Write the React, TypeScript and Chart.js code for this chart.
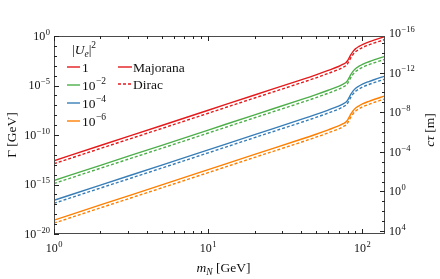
import { useEffect, useRef } from "react";
import { Chart, registerables } from "chart.js";

Chart.register(...registerables);

// hbar*c in GeV*m, links the right axis (c*tau) to the left axis (Gamma)
const HBARC = 1.97327e-16;

const massGeV = [1, 2, 5, 10, 20, 40, 50, 60, 70, 75, 78, 80, 82, 84, 87, 90, 95, 100, 110, 120, 130, 140];

// Gamma [GeV], Majorana, |U_e|^2 = 1, 1e-2, 1e-4, 1e-6
const majorana1 = [2.51e-13, 8.71e-12, 9.12e-10, 3.16e-8, 1.10e-6, 3.72e-5, 1.20e-4, 3.31e-4, 8.32e-4, 1.41e-3, 2.00e-3, 3.16e-3, 6.31e-3, 1.26e-2, 2.82e-2, 5.01e-2, 8.91e-2, 1.38e-1, 2.51e-1, 4.07e-1, 6.17e-1, 8.91e-1];
const majorana2 = [2.51e-15, 8.71e-14, 9.12e-12, 3.16e-10, 1.10e-8, 3.72e-7, 1.20e-6, 3.31e-6, 8.32e-6, 1.41e-5, 2.00e-5, 3.16e-5, 6.31e-5, 1.26e-4, 2.82e-4, 5.01e-4, 8.91e-4, 1.38e-3, 2.51e-3, 4.07e-3, 6.17e-3, 8.91e-3];
const majorana4 = [2.51e-17, 8.71e-16, 9.12e-14, 3.16e-12, 1.10e-10, 3.72e-9, 1.20e-8, 3.31e-8, 8.32e-8, 1.41e-7, 2.00e-7, 3.16e-7, 6.31e-7, 1.26e-6, 2.82e-6, 5.01e-6, 8.91e-6, 1.38e-5, 2.51e-5, 4.07e-5, 6.17e-5, 8.91e-5];
const majorana6 = [2.51e-19, 8.71e-18, 9.12e-16, 3.16e-14, 1.10e-12, 3.72e-11, 1.20e-10, 3.31e-10, 8.32e-10, 1.41e-9, 2.00e-9, 3.16e-9, 6.31e-9, 1.26e-8, 2.82e-8, 5.01e-8, 8.91e-8, 1.38e-7, 2.51e-7, 4.07e-7, 6.17e-7, 8.91e-7];

// Gamma [GeV], Dirac
const dirac1 = [1.26e-13, 4.36e-12, 4.56e-10, 1.58e-8, 5.50e-7, 1.86e-5, 6.00e-5, 1.66e-4, 4.16e-4, 7.05e-4, 1.00e-3, 1.58e-3, 3.16e-3, 6.30e-3, 1.41e-2, 2.51e-2, 4.46e-2, 6.90e-2, 1.26e-1, 2.04e-1, 3.09e-1, 4.46e-1];
const dirac2 = [1.26e-15, 4.36e-14, 4.56e-12, 1.58e-10, 5.50e-9, 1.86e-7, 6.00e-7, 1.66e-6, 4.16e-6, 7.05e-6, 1.00e-5, 1.58e-5, 3.16e-5, 6.30e-5, 1.41e-4, 2.51e-4, 4.46e-4, 6.90e-4, 1.26e-3, 2.04e-3, 3.09e-3, 4.46e-3];
const dirac4 = [1.26e-17, 4.36e-16, 4.56e-14, 1.58e-12, 5.50e-11, 1.86e-9, 6.00e-9, 1.66e-8, 4.16e-8, 7.05e-8, 1.00e-7, 1.58e-7, 3.16e-7, 6.30e-7, 1.41e-6, 2.51e-6, 4.46e-6, 6.90e-6, 1.26e-5, 2.04e-5, 3.09e-5, 4.46e-5];
const dirac6 = [1.26e-19, 4.36e-18, 4.56e-16, 1.58e-14, 5.50e-13, 1.86e-11, 6.00e-11, 1.66e-10, 4.16e-10, 7.05e-10, 1.00e-9, 1.58e-9, 3.16e-9, 6.30e-9, 1.41e-8, 2.51e-8, 4.46e-8, 6.90e-8, 1.26e-7, 2.04e-7, 3.09e-7, 4.46e-7];

const couplingLabels = ["1", "−2", "−4", "−6"]; // "1" or exponents of 10
const seriesColors = ["#e41a1c", "#4daf4a", "#377eb8", "#ff7f00"];

const xMajorTicks = [1, 10, 100];
const xMinorTicks = [2, 3, 4, 5, 6, 7, 8, 9, 20, 30, 40, 50, 60, 70, 80, 90];
const xTickExps = ["0", "1", "2"];
const yTickExps = [0, -5, -10, -15, -20];
const y2TickExps = [-16, -12, -8, -4, 0, 4];

const FONT = '"Liberation Serif", "DejaVu Serif", serif';
const TICK_FS = 12;
const SUP_FS = 8.5;
const TEXT_FS = 13.5;

function expStr(e: number) {
  return e < 0 ? "−" + String(-e) : String(e);
}

function powWidth(ctx: CanvasRenderingContext2D, exp: string, fs = TICK_FS, sfs = SUP_FS) {
  ctx.font = `${fs}px ${FONT}`;
  const w1 = ctx.measureText("10").width;
  ctx.font = `${sfs}px ${FONT}`;
  const w2 = ctx.measureText(exp).width;
  return [w1, w2];
}

function drawPow(
  ctx: CanvasRenderingContext2D,
  exp: string,
  x: number,
  y: number,
  align: "left" | "right" | "center",
  fs = TICK_FS,
  sfs = SUP_FS
) {
  const [w1, w2] = powWidth(ctx, exp, fs, sfs);
  const total = w1 + 0.5 + w2;
  const left = align === "left" ? x : align === "right" ? x - total : x - total / 2;
  ctx.textAlign = "left";
  ctx.textBaseline = "alphabetic";
  ctx.font = `${fs}px ${FONT}`;
  ctx.fillText("10", left, y + fs * 0.33);
  ctx.font = `${sfs}px ${FONT}`;
  ctx.fillText(exp, left + w1 + 0.5, y - fs * 0.1);
  return total;
}

type Piece = { t: string; italic?: boolean; size: number; dy: number };

function drawPieces(ctx: CanvasRenderingContext2D, pieces: Piece[], x: number, y: number, align: "left" | "center") {
  let total = 0;
  const widths = pieces.map((p) => {
    ctx.font = `${p.italic ? "italic " : ""}${p.size}px ${FONT}`;
    const w = ctx.measureText(p.t).width;
    total += w;
    return w;
  });
  let cx = align === "left" ? x : x - total / 2;
  ctx.textAlign = "left";
  ctx.textBaseline = "alphabetic";
  pieces.forEach((p, i) => {
    ctx.font = `${p.italic ? "italic " : ""}${p.size}px ${FONT}`;
    ctx.fillText(p.t, cx, y + p.dy);
    cx += widths[i];
  });
}

const decorPlugin = {
  id: "decor",
  afterDraw(chart: any) {
    const ctx: CanvasRenderingContext2D = chart.ctx;
    const a = chart.chartArea;
    const xs = chart.scales.x;
    const ys = chart.scales.y;
    const y2 = chart.scales.y2;
    ctx.save();

    // frame
    ctx.strokeStyle = "#4a4a4a";
    ctx.lineWidth = 1;
    ctx.strokeRect(Math.round(a.left) + 0.5, Math.round(a.top) + 0.5, Math.round(a.right - a.left) - 1, Math.round(a.bottom - a.top) - 1);

    // ticks (inward)
    ctx.strokeStyle = "#222";
    ctx.beginPath();
    const xt = (v: number, len: number) => {
      const px = Math.round(xs.getPixelForValue(v)) + 0.5;
      ctx.moveTo(px, a.bottom);
      ctx.lineTo(px, a.bottom - len);
      ctx.moveTo(px, a.top);
      ctx.lineTo(px, a.top + len);
    };
    xMajorTicks.forEach((v) => xt(v, 5));
    xMinorTicks.forEach((v) => xt(v, 3));
    for (let e = -20; e <= 0; e++) {
      const py = Math.round(ys.getPixelForValue(Math.pow(10, e))) + 0.5;
      const len = e % 5 === 0 ? 5 : 3;
      ctx.moveTo(a.left, py);
      ctx.lineTo(a.left + len, py);
    }
    for (let e = -16; e <= 4; e++) {
      const raw = y2.getPixelForValue(Math.pow(10, e));
      if (raw < a.top + 1 || raw > a.bottom - 1) continue;
      const py = Math.round(raw) + 0.5;
      const len = e % 4 === 0 ? 5 : 3;
      ctx.moveTo(a.right, py);
      ctx.lineTo(a.right - len, py);
    }
    ctx.stroke();

    // tick labels
    ctx.fillStyle = "#111";
    xMajorTicks.forEach((v, i) => {
      drawPow(ctx, xTickExps[i], xs.getPixelForValue(v), a.bottom + 14, "center");
    });
    yTickExps.forEach((e) => {
      drawPow(ctx, expStr(e), a.left - 4, ys.getPixelForValue(Math.pow(10, e)), "right");
    });
    y2TickExps.forEach((e) => {
      drawPow(ctx, expStr(e), a.right + 4, y2.getPixelForValue(Math.pow(10, e)), "left");
    });

    // axis titles
    drawPieces(
      ctx,
      [
        { t: "m", italic: true, size: TEXT_FS, dy: 0 },
        { t: "N", italic: true, size: 9.5, dy: 2.5 },
        { t: " [GeV]", size: TEXT_FS, dy: 0 },
      ],
      (a.left + a.right) / 2 + 4,
      a.bottom + 38,
      "center"
    );
    ctx.save();
    ctx.translate(16, 135);
    ctx.rotate(-Math.PI / 2);
    drawPieces(ctx, [{ t: "Γ [GeV]", size: TEXT_FS, dy: 0 }], 0, 0, "center");
    ctx.restore();
    ctx.save();
    ctx.translate(434, 130);
    ctx.rotate(-Math.PI / 2);
    drawPieces(
      ctx,
      [
        { t: "cτ", italic: true, size: TEXT_FS, dy: 0 },
        { t: " [m]", size: TEXT_FS, dy: 0 },
      ],
      0,
      0,
      "center"
    );
    ctx.restore();

    // legend
    drawPieces(
      ctx,
      [
        { t: "|", size: TEXT_FS, dy: 0 },
        { t: "U", italic: true, size: TEXT_FS, dy: 0 },
        { t: "e", italic: true, size: 9.5, dy: 2.5 },
        { t: "|", size: TEXT_FS, dy: 0 },
        { t: "2", size: 9.5, dy: -6 },
      ],
      72,
      54,
      "left"
    );
    const rowY = [67, 85, 103, 121];
    ctx.lineWidth = 1.4;
    couplingLabels.forEach((lab, i) => {
      const y = rowY[i];
      ctx.strokeStyle = seriesColors[i];
      ctx.setLineDash([]);
      ctx.beginPath();
      ctx.moveTo(67, y);
      ctx.lineTo(80, y);
      ctx.stroke();
      ctx.fillStyle = "#111";
      if (i === 0) {
        ctx.font = `${TEXT_FS}px ${FONT}`;
        ctx.textAlign = "left";
        ctx.textBaseline = "alphabetic";
        ctx.fillText(lab, 82, y + 4.5);
      } else {
        drawPow(ctx, lab, 82, y + 0.5, "left", TEXT_FS, 9.5);
      }
    });
    ctx.strokeStyle = seriesColors[0];
    ctx.beginPath();
    ctx.moveTo(118, 67);
    ctx.lineTo(132, 67);
    ctx.stroke();
    ctx.setLineDash([3, 2]);
    ctx.beginPath();
    ctx.moveTo(118, 84);
    ctx.lineTo(132, 84);
    ctx.stroke();
    ctx.setLineDash([]);
    ctx.fillStyle = "#111";
    ctx.font = `${TEXT_FS}px ${FONT}`;
    ctx.textAlign = "left";
    ctx.textBaseline = "alphabetic";
    ctx.fillText("Majorana", 133, 71.5);
    ctx.fillText("Dirac", 133, 88.5);

    ctx.restore();
  },
};

export default function App() {
  const ref = useRef<HTMLCanvasElement | null>(null);

  useEffect(() => {
    document.body.style.margin = "0";
    const canvas = ref.current;
    if (!canvas) return;
    const toPts = (arr: number[]) => arr.map((y, i) => ({ x: massGeV[i], y }));
    const maj = [majorana1, majorana2, majorana4, majorana6];
    const dir = [dirac1, dirac2, dirac4, dirac6];
    const datasets: any[] = [];
    maj.forEach((arr, i) => {
      datasets.push({
        label: "Majorana " + couplingLabels[i],
        data: toPts(arr),
        borderColor: seriesColors[i],
        borderWidth: 1.4,
        pointRadius: 0,
        fill: false,
        cubicInterpolationMode: "monotone",
      });
      datasets.push({
        label: "Dirac " + couplingLabels[i],
        data: toPts(dir[i]),
        borderColor: seriesColors[i],
        borderWidth: 1.4,
        borderDash: [3, 2],
        pointRadius: 0,
        fill: false,
        cubicInterpolationMode: "monotone",
      });
    });

    const chart = new Chart(canvas, {
      type: "line",
      data: { datasets },
      plugins: [decorPlugin],
      options: {
        animation: false,
        responsive: true,
        maintainAspectRatio: false,
        devicePixelRatio: 1,
        layout: { padding: { top: 36, left: 0, right: 0, bottom: 0 } },
        plugins: { legend: { display: false }, tooltip: { enabled: false } },
        scales: {
          x: {
            type: "logarithmic",
            min: 1,
            max: 140,
            grid: { display: false },
            border: { display: false },
            ticks: { display: false },
            afterFit: (s: any) => {
              s.height = 45;
            },
          },
          y: {
            type: "logarithmic",
            position: "left",
            min: 1e-20,
            max: 1,
            grid: { display: false },
            border: { display: false },
            ticks: { display: false },
            afterFit: (s: any) => {
              s.width = 54;
            },
          },
          y2: {
            type: "logarithmic",
            position: "right",
            reverse: true,
            min: HBARC / 1,
            max: HBARC / 1e-20,
            grid: { display: false },
            border: { display: false },
            ticks: { display: false },
            afterFit: (s: any) => {
              s.width = 55;
            },
          },
        },
      } as any,
    });
    return () => chart.destroy();
  }, []);

  return (
    <div style={{ width: 440, height: 279, position: "relative" }}>
      <canvas ref={ref} />
    </div>
  );
}
